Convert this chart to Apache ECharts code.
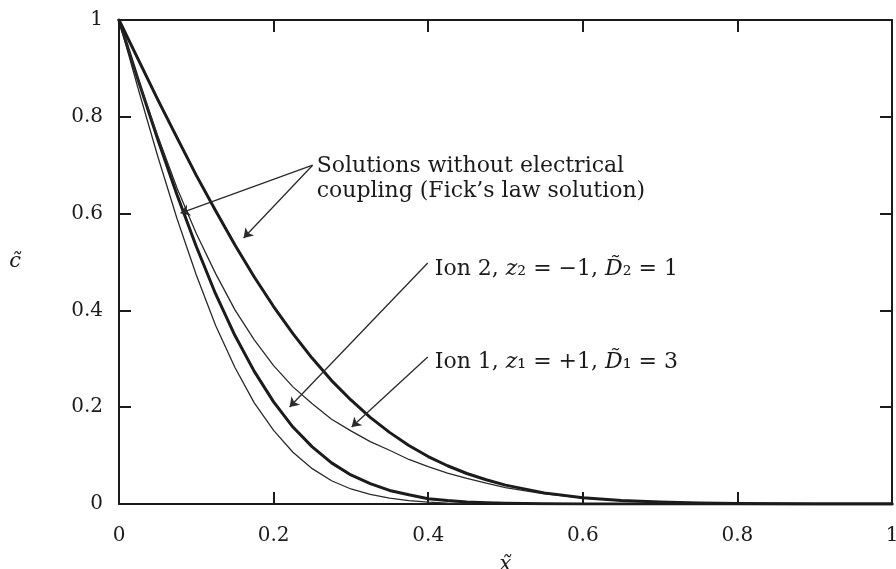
<!DOCTYPE html>
<html>
<head>
<meta charset="utf-8">
<script src="https://cdn.jsdelivr.net/npm/echarts@6/dist/echarts.min.js"></script>
<style>
  html, body { margin: 0; padding: 0; background: #fff; }
  #chart { width: 896px; height: 569px; }
</style>
</head>
<body>
<div id="chart"></div>
<script>
// Dimensionless position x~ at which each profile is sampled
const xPositions = [0, 0.025, 0.05, 0.075, 0.1, 0.125, 0.15, 0.175, 0.2, 0.225, 0.25,
  0.275, 0.3, 0.325, 0.35, 0.375, 0.4, 0.425, 0.45, 0.475, 0.5,
  0.55, 0.6, 0.65, 0.7, 0.75, 0.8, 0.9, 1.0];

// Fick's law profile for the slow ion (D~ = 1), thin line
const fickSlow = [1, 0.857, 0.719, 0.590, 0.473, 0.369, 0.282, 0.209, 0.152, 0.107, 0.073,
  0.048, 0.031, 0.020, 0.012, 0.007, 0.004, 0.002, 0.0013, 0.0007, 0.0003,
  0.0001, 0, 0, 0, 0, 0, 0, 0];

// Coupled profile of ion 2 (z2 = -1, D~2 = 1), thick line
const coupledIon2 = [1, 0.875, 0.754, 0.639, 0.532, 0.434, 0.348, 0.274, 0.211, 0.159, 0.118,
  0.085, 0.060, 0.042, 0.028, 0.019, 0.011, 0.007, 0.004, 0.0025, 0.0015,
  0.0005, 0.0001, 0, 0, 0, 0, 0, 0];

// Coupled profile of ion 1 (z1 = +1, D~1 = 3), thin line
const coupledIon1 = [1, 0.876, 0.761, 0.653, 0.559, 0.476, 0.401, 0.339, 0.286, 0.242, 0.207,
  0.175, 0.151, 0.129, 0.111, 0.092, 0.077, 0.064, 0.053, 0.043, 0.034,
  0.021, 0.0125, 0.007, 0.0038, 0.0019, 0.0009, 0.0002, 0];

// Fick's law profile for the fast ion (D~ = 3), thick line
const fickFast = [1, 0.918, 0.836, 0.757, 0.679, 0.606, 0.535, 0.469, 0.408, 0.352, 0.301,
  0.255, 0.215, 0.179, 0.148, 0.121, 0.098, 0.079, 0.063, 0.050, 0.039,
  0.023, 0.013, 0.0072, 0.0039, 0.0019, 0.0009, 0.0002, 0];

const tickLabels = ['0', '0.2', '0.4', '0.6', '0.8', '1'];

const SERIF = '"DejaVu Serif", "Liberation Serif", serif';
const INK = '#1b1b1b';

function pairs(ys) { return xPositions.map((x, i) => [x, ys[i]]); }
function tickText(v) { return tickLabels[Math.round(v / 0.2)]; }

const chart = echarts.init(document.getElementById('chart'), null, { renderer: 'canvas' });

const axisCommon = {
  type: 'value', min: 0, max: 1, interval: 0.2,
  axisLine: { show: true, onZero: false, lineStyle: { color: INK, width: 2 } },
  axisTick: { show: true, inside: true, length: 12, lineStyle: { color: INK, width: 2 } },
  splitLine: { show: false },
  axisLabel: { show: false }
};

const arrowStyle = { color: '#2a2a2a', width: 1.3, type: 'solid' };

function labelPoint(coord, text, rich) {
  return {
    coord: coord,
    symbol: 'circle',
    symbolSize: 0,
    itemStyle: { color: 'rgba(0,0,0,0)' },
    label: {
      show: true, position: 'right', distance: 0,
      formatter: text,
      color: INK, fontFamily: SERIF, fontSize: 22, lineHeight: 24,
      rich: rich || {}
    }
  };
}

const italic = { i: { fontStyle: 'italic', fontFamily: SERIF, fontSize: 22, color: INK } };

function profile(name, ys, width, color) {
  return {
    name: name, type: 'line', data: pairs(ys),
    showSymbol: false, smooth: false, silent: true,
    lineStyle: { color: color, width: width, join: 'round', cap: 'round' }
  };
}

const fastSeries = profile('Fick, fast ion', fickFast, 3, INK);
fastSeries.markLine = {
  silent: true,
  symbol: ['none', 'arrow'],
  symbolSize: 9,
  label: { show: false },
  lineStyle: arrowStyle,
  emphasis: { disabled: true },
  data: [
    [{ coord: [0.2505, 0.700] }, { coord: [0.0796, 0.601] }],
    [{ coord: [0.2505, 0.700] }, { coord: [0.1612, 0.5496] }],
    [{ coord: [0.3994, 0.498] }, { coord: [0.2207, 0.2004] }],
    [{ coord: [0.3994, 0.3037] }, { coord: [0.301, 0.159] }]
  ]
};
fastSeries.markPoint = {
  silent: true,
  data: [
    labelPoint([0.2557, 0.697], 'Solutions without electrical'),
    labelPoint([0.2557, 0.646], 'coupling (Fick\u2019s law solution)'),
    labelPoint([0.4084, 0.485], 'Ion 2, {i|z}\u2082 = \u22121, {i|D\u0303}\u2082 = 1', italic),
    labelPoint([0.4084, 0.2934], 'Ion 1, {i|z}\u2081 = +1, {i|D\u0303}\u2081 = 3', italic)
  ]
};

const option = {
  animation: false,
  backgroundColor: '#fff',
  grid: { left: 119, right: 4, top: 20, bottom: 65, containLabel: false, outerBoundsMode: 'none' },
  xAxis: [
    Object.assign({}, axisCommon, {
      position: 'bottom',
      name: 'x\u0303', nameLocation: 'middle', nameGap: 50,
      nameTextStyle: { fontFamily: SERIF, fontStyle: 'italic', fontSize: 21, color: INK },
      axisLabel: { show: true, margin: 22, formatter: tickText, showMinLabel: true, showMaxLabel: true,
        fontFamily: SERIF, fontSize: 20, color: INK }
    }),
    Object.assign({}, axisCommon, { position: 'top' })
  ],
  yAxis: [
    Object.assign({}, axisCommon, {
      position: 'left',
      name: 'c\u0303', nameLocation: 'middle', nameGap: 98, nameRotate: 0,
      nameTextStyle: { fontFamily: SERIF, fontStyle: 'italic', fontSize: 21, color: INK },
      axisLabel: { show: true, margin: 16, formatter: tickText, showMinLabel: true, showMaxLabel: true,
        fontFamily: SERIF, fontSize: 20, color: INK }
    }),
    Object.assign({}, axisCommon, { position: 'right' })
  ],
  series: [
    profile('Fick, slow ion', fickSlow, 1.3, '#2a2a2a'),
    profile('Ion 2', coupledIon2, 3, INK),
    profile('Ion 1', coupledIon1, 1.3, '#2a2a2a'),
    fastSeries
  ]
};

chart.setOption(option);
</script>
</body>
</html>
